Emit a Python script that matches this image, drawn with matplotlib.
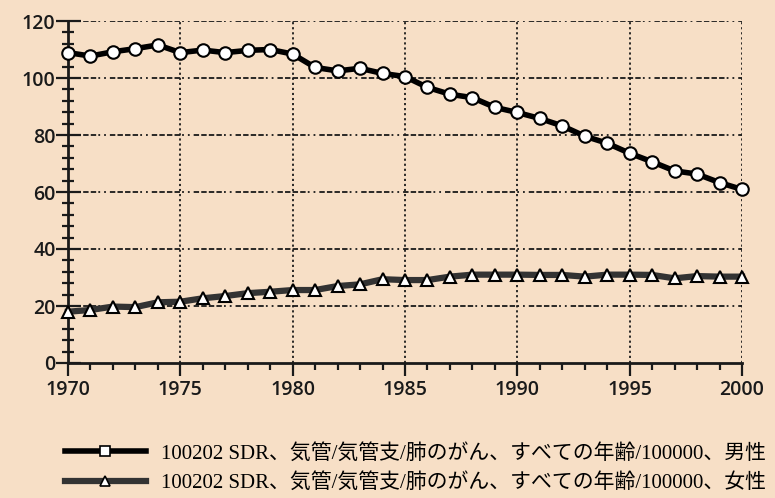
import matplotlib
matplotlib.use('Agg')
import matplotlib.pyplot as plt
from matplotlib.lines import Line2D
from matplotlib.ticker import MultipleLocator

# data
years = list(range(1970, 2001))
male = [108.9, 107.7, 109.2, 110.3, 111.6, 108.9, 109.8, 108.9, 109.7, 110.0,
        108.4, 103.7, 102.5, 103.4, 101.6, 100.5, 96.7, 94.3, 93.1, 89.7,
        87.9, 85.8, 83.2, 79.6, 77.1, 73.6, 70.6, 67.4, 66.3, 63.3, 60.9]
female = [18.0, 18.6, 19.8, 19.6, 21.3, 21.5, 22.7, 23.5, 24.5, 25.0,
          25.6, 25.6, 27.0, 27.6, 29.4, 29.1, 29.1, 30.3, 31.0, 31.0,
          31.0, 30.9, 30.9, 30.3, 31.0, 31.0, 30.9, 29.7, 30.5, 30.3, 30.3]
labels = ['100202 SDR、気管/気管支/肺のがん、すべての年齢/100000、男性',
          '100202 SDR、気管/気管支/肺のがん、すべての年齢/100000、女性']

bg = '#f7dfc6'
male_col = '#000000'
female_col = '#333333'
legend_font = ['Liberation Serif', 'Noto Sans CJK JP']

fig = plt.figure(figsize=(7.75, 4.98), dpi=100, facecolor=bg)
ax = fig.add_axes([68 / 775, 1 - 363 / 498, 674 / 775, 342 / 498])
ax.set_facecolor(bg)

ax.set_xlim(1970, 2000)
ax.set_ylim(0, 120)

# grid: horizontal dash-dot-dot, vertical dotted
for yv in range(20, 121, 20):
    ax.axhline(yv, color='#1a1a1a', lw=1.3, ls=(0, (3, 1.2, 3, 1.2, 3, 1.2, 3, 1.2, 1, 2.2, 1, 2.2)), zorder=1)
for xv in range(1975, 2001, 5):
    ax.axvline(xv, color='#1a1a1a', lw=1.3, ls=(0, (1.2, 1.6)), zorder=1)

ax.plot(years, male, color=male_col, lw=4, marker='o', ms=9, mfc='white',
        mec='black', mew=1.5, zorder=4, clip_on=False)
ax.plot(years, female, color=female_col, lw=4.5, marker='^', ms=9, mfc='white',
        mec='black', mew=1.5, zorder=3, clip_on=False)

for s in ['top', 'right']:
    ax.spines[s].set_visible(False)
for s in ['left', 'bottom']:
    ax.spines[s].set_color('#1a1a1a')
    ax.spines[s].set_linewidth(2)

ax.xaxis.set_major_locator(MultipleLocator(5))
ax.xaxis.set_minor_locator(MultipleLocator(1))
ax.yaxis.set_major_locator(MultipleLocator(20))
ax.yaxis.set_minor_locator(MultipleLocator(4))
ax.tick_params(axis='x', which='major', direction='out', length=9, width=1.6, color='#1a1a1a', pad=3)
ax.tick_params(axis='x', which='minor', direction='out', length=5, width=1.6, color='#1a1a1a')
ax.tick_params(axis='y', which='major', direction='inout', length=18, width=1.6, color='#1a1a1a', pad=0)
ax.tick_params(axis='y', which='minor', direction='inout', length=8, width=1.6, color='#1a1a1a')
for lab in ax.get_xticklabels() + ax.get_yticklabels():
    lab.set_fontfamily('Open Sans')
    lab.set_fontsize(14)
    lab.set_fontweight('semibold')
    lab.set_color('#1a1a1a')

# legend drawn below the plot
handles = [Line2D([0], [0], color=male_col, lw=4, marker='s', ms=7, mfc='white', mec='black', mew=1.2),
           Line2D([0], [0], color=female_col, lw=4.5, marker='^', ms=7, mfc='white', mec='black', mew=1.2)]
leg = fig.legend(handles, labels, loc='upper left', bbox_to_anchor=(46 / 775, 1 - 425 / 498),
                 frameon=False, handlelength=3.9, handletextpad=0.7, labelspacing=0.45,
                 prop={'family': legend_font, 'size': 15})

fig.savefig('out.png', dpi=100, facecolor=bg)
